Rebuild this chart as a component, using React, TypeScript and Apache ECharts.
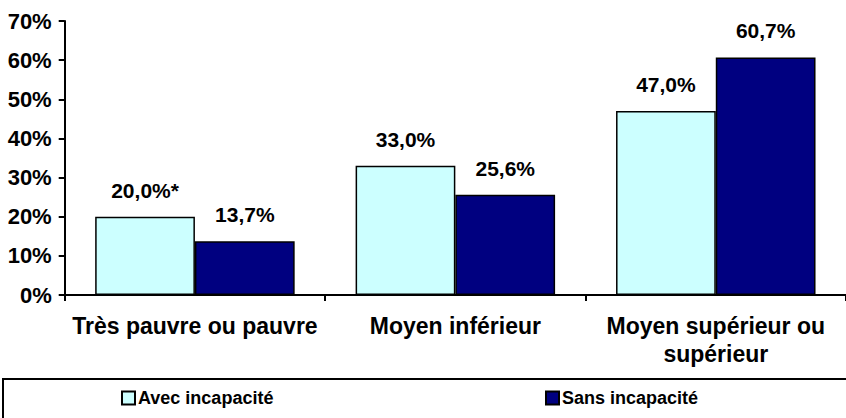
import React, { useEffect, useRef } from "react";
import * as echarts from "echarts";

const categories = ["Très pauvre ou pauvre", "Moyen inférieur", "Moyen supérieur ou\nsupérieur"];
const seriesNames = ["Avec incapacité", "Sans incapacité"];
const avecValues = [20.0, 33.0, 47.0];
const avecNotes = ["*", "", ""];
const sansValues = [13.7, 25.6, 60.7];
const sansNotes = ["", "", ""];
const yTicks = [0, 10, 20, 30, 40, 50, 60, 70];

const FONT = "'Liberation Sans', Arial, sans-serif";

function fmt(v: number, note: string) {
  return v.toFixed(1).replace(".", ",") + "%" + note;
}

export default function App() {
  const ref = useRef<HTMLDivElement>(null);
  useEffect(() => {
    if (!ref.current) return;
    const chart = echarts.init(ref.current, null, { renderer: "svg" });
    const labelStyle = {
      show: true,
      position: "top" as const,
      distance: 16,
      fontFamily: FONT,
      fontWeight: "bold" as const,
      fontSize: 21,
      color: "#000",
    };
    const legendText = { fontFamily: FONT, fontWeight: "bold", fontSize: 18, color: "#000", padding: [0, 0, 0, -2] };
    chart.setOption({
      animation: false,
      backgroundColor: "#fff",
      textStyle: { fontFamily: FONT },
      grid: { left: 64.7, right: -1, top: 21, bottom: 418 - 295, containLabel: false },
      legend: [
        {
          data: [seriesNames[0]],
          left: 116,
          top: 384,
          itemWidth: 13,
          itemHeight: 13,
          itemGap: 5,
          icon: "rect",
          textStyle: legendText,
        },
        {
          data: [seriesNames[1]],
          left: 540,
          top: 384,
          itemWidth: 13,
          itemHeight: 13,
          itemGap: 5,
          icon: "rect",
          textStyle: legendText,
        },
      ],
      graphic: [
        {
          type: "rect",
          shape: { x: 3, y: 379, width: 860, height: 60 },
          style: { fill: "none", stroke: "#000", lineWidth: 2 },
          z: 0,
        },
      ],
      xAxis: {
        type: "category",
        data: categories,
        axisLine: { lineStyle: { color: "#000", width: 2 } },
        axisTick: { show: true, length: 6, lineStyle: { color: "#000", width: 2 } },
        axisLabel: {
          interval: 0,
          margin: 17,
          fontFamily: FONT,
          fontWeight: "bold",
          fontSize: 23,
          color: "#000",
          lineHeight: 28,
        },
        splitLine: { show: false },
      },
      yAxis: {
        type: "value",
        min: yTicks[0],
        max: yTicks[yTicks.length - 1],
        interval: 10,
        axisLine: { show: true, lineStyle: { color: "#000", width: 2 } },
        axisTick: { show: true, length: 6, lineStyle: { color: "#000", width: 2 } },
        axisLabel: {
          margin: 13,
          fontFamily: FONT,
          fontWeight: "bold",
          fontSize: 22,
          color: "#000",
          formatter: (v: number) => v + "%",
        },
        splitLine: { show: false },
      },
      series: [
        {
          name: seriesNames[0],
          type: "bar",
          data: avecValues,
          barGap: "0%",
          barCategoryGap: "23.4%",
          itemStyle: { color: "#CCFFFF", borderColor: "#000", borderWidth: 1.5 },
          label: { ...labelStyle, formatter: (p: any) => fmt(p.value, avecNotes[p.dataIndex]) },
        },
        {
          name: seriesNames[1],
          type: "bar",
          data: sansValues,
          barGap: "0%",
          barCategoryGap: "23.4%",
          itemStyle: { color: "#000080", borderColor: "#000", borderWidth: 1.5 },
          label: { ...labelStyle, formatter: (p: any) => fmt(p.value, sansNotes[p.dataIndex]) },
        },
      ],
    });
    return () => chart.dispose();
  }, []);
  return (
    <div
      ref={ref}
      style={{ position: "fixed", left: 0, top: 0, width: 846, height: 418, background: "#fff" }}
    />
  );
}
